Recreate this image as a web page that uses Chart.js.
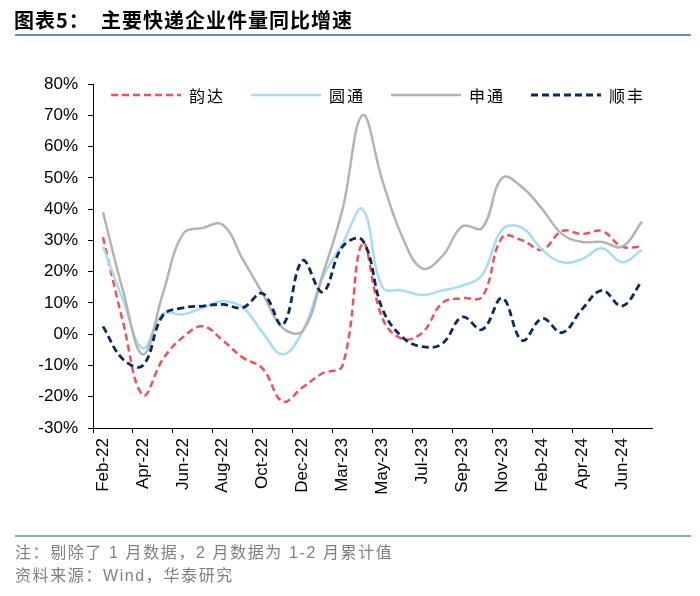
<!DOCTYPE html>
<html>
<head>
<meta charset="utf-8">
<script src="https://cdn.jsdelivr.net/npm/chart.js@4.4.1/dist/chart.umd.min.js"></script>
<style>
html,body{margin:0;padding:0;background:#fff;}
#wrap{position:relative;width:700px;height:596px;overflow:hidden;background:#fff;}
#title{position:absolute;left:14px;top:10px;font-weight:bold;font-size:20px;line-height:20px;font-family:"Noto Sans CJK SC";color:#000;letter-spacing:1px;white-space:pre;}
#tline{position:absolute;left:15px;top:34px;width:676px;height:2px;background:#6f8fbe;}
#bline{position:absolute;left:15px;top:535px;width:676px;height:2px;background:#8ea6c4;}
.note{position:absolute;left:15px;font-size:16px;line-height:16px;font-family:"Liberation Sans","Noto Sans CJK SC";color:#7f7f7f;white-space:pre;letter-spacing:1.6px;}
#c{position:absolute;left:0;top:0;}
</style>
</head>
<body>
<div id="wrap">
  <canvas id="c" width="700" height="596"></canvas>
  <div id="title">图表5：  主要快递企业件量同比增速</div>
  <div id="tline"></div>
  <div id="bline"></div>
  <div class="note" style="top:545px">注：剔除了 1 月数据，2 月数据为 1-2 月累计值</div>
  <div class="note" style="top:568px">资料来源：Wind，华泰研究</div>
</div>
<script>
// ---- data ----
const categories = ['Feb-22','Mar-22','Apr-22','May-22','Jun-22','Jul-22','Aug-22','Sep-22','Oct-22','Nov-22','Dec-22',
  'Feb-23','Mar-23','Apr-23','May-23','Jun-23','Jul-23','Aug-23','Sep-23','Oct-23','Nov-23','Dec-23',
  'Feb-24','Mar-24','Apr-24','May-24','Jun-24','Jul-24'];
const seriesNames = ['韵达','圆通','申通','顺丰'];
const yunda = [31, 4, -19.5, -8, -1, 2.5, -2, -7.5, -11, -21.5, -17,
  -12.5, -10, 29, 5, -1.5, 0.5, 10, 11.5, 12, 31, 30,
  27, 33, 32, 33, 28, 28];
const yto = [28, 11, -4.5, 6.5, 6.3, 8.5, 10.5, 8.5, 0.5, -6.5, 1,
  18, 29, 40, 15, 14, 12.5, 14, 15.5, 19, 33.5, 34,
  27, 23, 24, 27.5, 23, 27];
const sto = [39, 14, -6.5, 13, 32, 34, 35, 24, 13, 2, 1,
  19, 40, 70, 49, 31, 21, 25, 34.5, 34, 50, 47,
  40, 32, 29.5, 29.5, 28, 36];
const sf = [2.5, -8, -10, 6, 8.4, 9, 9.5, 8.5, 13, 3, 23.5,
  13.5, 28, 30, 8, -1, -4, -3, 5.5, 1.5, 11.5, -2,
  5, 0.5, 8, 14, 9, 17];
const yMin = -30, yMax = 80, yStep = 10;

const legendPlugin = {
  id: 'inLegend',
  afterDraw(chart) {
    const ctx = chart.ctx;
    const area = chart.chartArea;
    const y = area.top + 11;
    const pitch = 140;
    ctx.save();
    chart.data.datasets.forEach((ds, i) => {
      const x0 = area.left + 18 + i * pitch;
      ctx.beginPath();
      ctx.setLineDash(ds.borderDash || []);
      ctx.strokeStyle = ds.borderColor;
      ctx.lineWidth = ds.borderWidth;
      ctx.moveTo(x0, y);
      ctx.lineTo(x0 + 70, y);
      ctx.stroke();
      ctx.setLineDash([]);
      ctx.fillStyle = '#000';
      ctx.font = '16px "Noto Sans CJK SC"';
      ctx.textBaseline = 'middle';
      ctx.textAlign = 'left';
      [...ds.label].forEach((ch, k) => ctx.fillText(ch, x0 + 78 + k * 18, y + 1));
    });
    ctx.restore();
  }
};

const tickFont = {family: '"Liberation Sans", Arial, sans-serif', size: 17};

new Chart(document.getElementById('c'), {
  type: 'line',
  data: {
    labels: categories,
    datasets: [
      {label: seriesNames[0], data: yunda, borderColor: '#f0525a', borderDash: [7,4], borderWidth: 2.5, order: 4},
      {label: seriesNames[1], data: yto, borderColor: '#a8dcf2', borderWidth: 2.5, order: 3},
      {label: seriesNames[2], data: sto, borderColor: '#b3b3b3', borderWidth: 2.5, order: 2},
      {label: seriesNames[3], data: sf, borderColor: '#0d2a5c', borderDash: [7,4], borderWidth: 2.8, order: 1}
    ]
  },
  options: {
    responsive: false,
    animation: false,
    devicePixelRatio: 1,
    layout: {padding: {top: 84, right: 48, left: 0, bottom: 0}},
    elements: {
      line: {tension: 0.4, fill: false, borderCapStyle: 'butt'},
      point: {radius: 0, hoverRadius: 0}
    },
    plugins: {legend: {display: false}, tooltip: {enabled: false}, title: {display: false}},
    scales: {
      x: {
        type: 'category',
        offset: true,
        grid: {
          display: true, drawOnChartArea: false, drawTicks: true, tickLength: 5, offset: true,
          tickColor: (c) => (c.index % 2 === 0 ? '#000' : 'rgba(0,0,0,0)'), tickWidth: 1
        },
        border: {display: true, color: '#000', width: 1},
        ticks: {
          autoSkip: false, maxRotation: 90, minRotation: 90, padding: 5, color: '#000', font: tickFont,
          callback: (v, i) => (i % 2 === 0 ? categories[i] : '')
        },
        afterFit: (s) => { s.height = 168; s.paddingLeft = 0; s.paddingRight = 0; }
      },
      y: {
        min: yMin, max: yMax,
        grid: {display: true, drawOnChartArea: false, drawTicks: true, tickLength: 5, tickColor: '#000'},
        border: {display: true, color: '#000', width: 1},
        ticks: {stepSize: yStep, padding: 10, color: '#000', font: tickFont, callback: (v) => v + '%'},
        afterFit: (s) => { s.width = 93; s.paddingTop = 0; s.paddingBottom = 0; }
      }
    }
  },
  plugins: [legendPlugin]
});
</script>
</body>
</html>
